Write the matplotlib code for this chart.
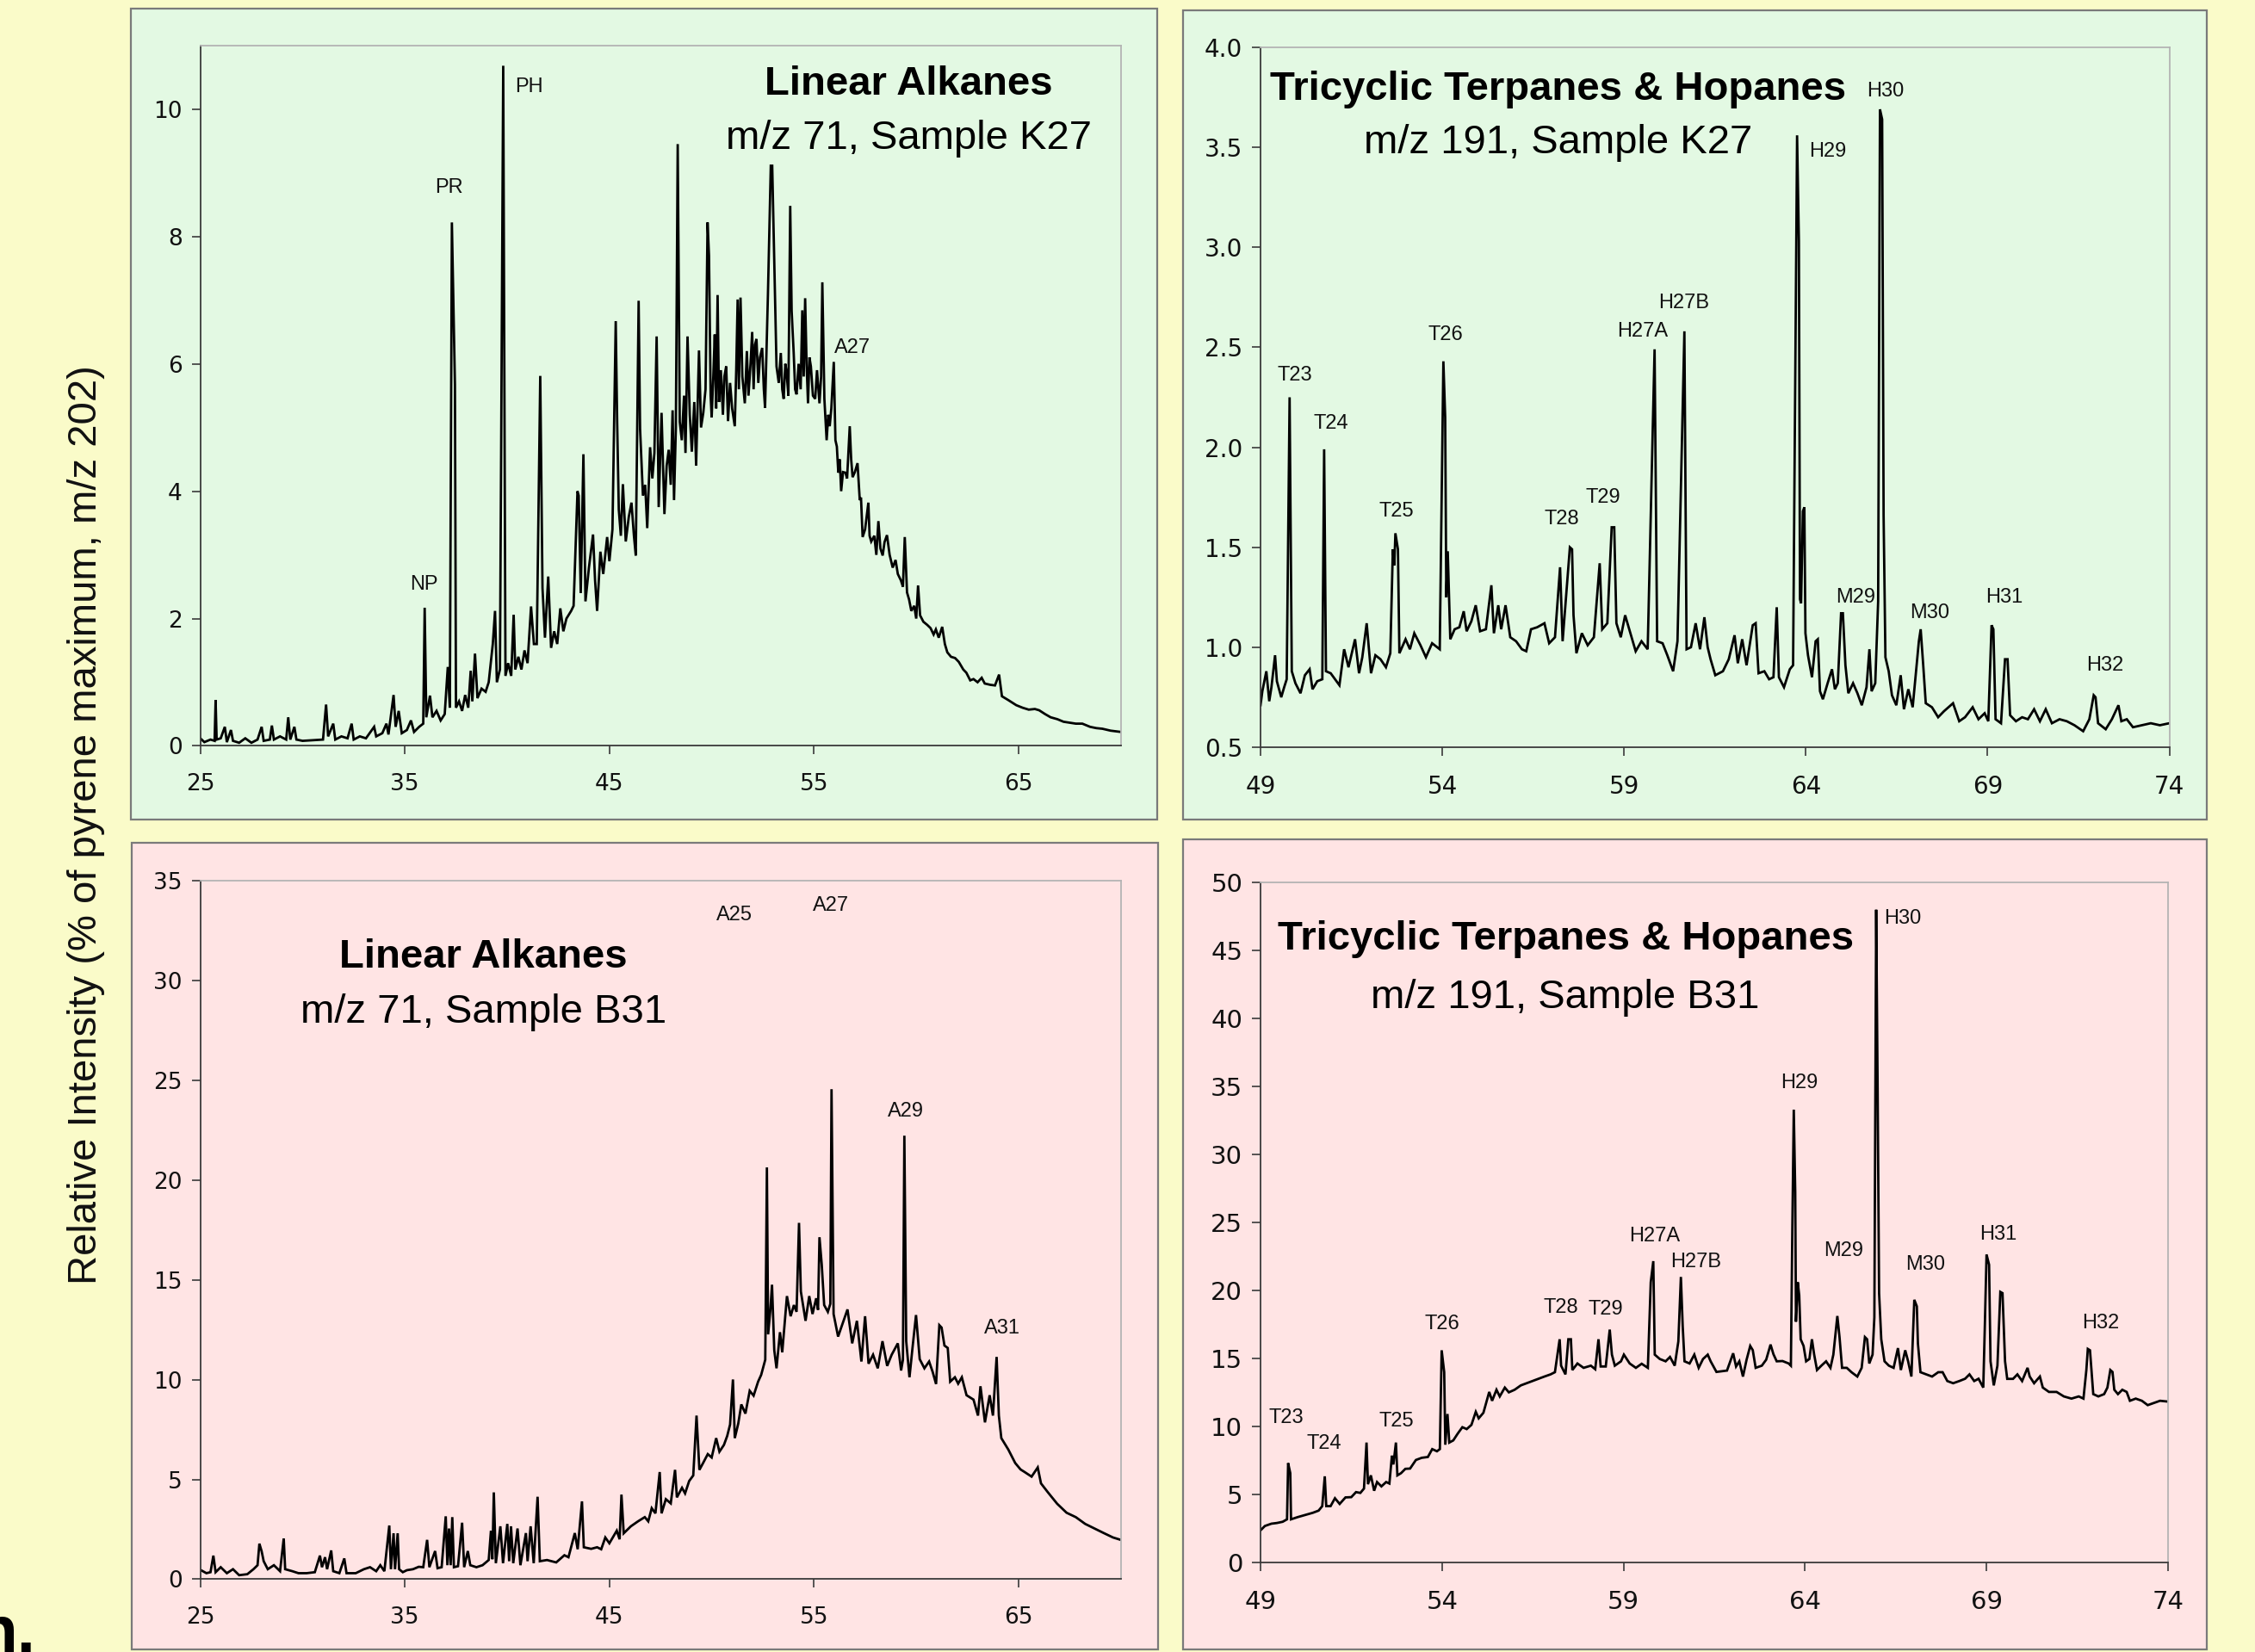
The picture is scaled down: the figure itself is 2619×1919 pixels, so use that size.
import numpy as np
import matplotlib
matplotlib.use("Agg")
import matplotlib.pyplot as plt
from matplotlib.patches import Rectangle
from matplotlib.ticker import FormatStrFormatter

# ---------------- data (retention time, relative intensity) ----------------
k27_alkanes = [
    (25.0,0.12),(25.2,0.06),(25.5,0.1),(25.7,0.08),(25.75,0.72),(25.8,0.1),(26.0,0.12),(26.2,0.3),(26.3,0.06),
    (26.5,0.25),(26.6,0.08),(26.9,0.05),(27.2,0.12),(27.5,0.05),(27.8,0.1),(28.0,0.3),(28.1,0.08),(28.4,0.1),
    (28.5,0.32),(28.6,0.1),(28.9,0.15),(29.2,0.1),(29.3,0.45),(29.4,0.1),(29.6,0.3),(29.7,0.1),(30.0,0.08),
    (30.5,0.09),(31.0,0.1),(31.15,0.65),(31.25,0.15),(31.5,0.35),(31.6,0.1),(31.9,0.15),(32.2,0.12),(32.4,0.35),
    (32.5,0.1),(32.8,0.15),(33.1,0.12),(33.5,0.3),(33.6,0.15),(33.9,0.2),(34.1,0.35),(34.2,0.18),(34.45,0.8),
    (34.55,0.3),(34.7,0.55),(34.85,0.2),(35.1,0.25),(35.3,0.4),(35.45,0.22),(35.7,0.3),(35.9,0.35),
    (35.97,2.17),(36.05,0.45),(36.23,0.79),(36.35,0.45),(36.55,0.55),(36.75,0.4),(36.95,0.5),(37.1,1.24),
    (37.2,0.6),(37.3,8.22),(37.45,5.67),(37.5,0.6),(37.65,0.7),(37.8,0.55),(37.95,0.8),(38.1,0.6),(38.22,1.18),
    (38.3,0.7),(38.43,1.45),(38.55,0.75),(38.75,0.9),(38.95,0.85),(39.1,1.0),(39.3,1.6),(39.41,2.12),(39.5,1.0),
    (39.65,1.2),(39.81,10.68),(39.92,1.1),(40.05,1.3),(40.2,1.1),(40.32,2.06),(40.4,1.2),(40.55,1.4),(40.7,1.2),
    (40.85,1.5),(41.0,1.3),(41.17,2.19),(41.31,1.6),(41.45,1.6),(41.62,5.81),(41.73,2.48),(41.85,1.7),(42.01,2.66),
    (42.15,1.54),(42.3,1.8),(42.45,1.6),(42.6,2.16),(42.75,1.8),(42.9,2.0),(43.13,2.12),(43.25,2.2),(43.44,4.0),
    (43.5,3.93),(43.6,2.4),(43.73,4.58),(43.83,2.27),(44.0,2.8),(44.2,3.32),(44.3,2.6),(44.4,2.12),(44.56,3.05),
    (44.7,2.7),(44.89,3.28),(45.0,2.9),(45.15,3.4),(45.31,6.67),(45.38,5.09),(45.46,3.71),(45.56,3.3),(45.66,4.11),
    (45.8,3.21),(45.95,3.6),(46.08,3.82),(46.2,3.3),(46.29,2.99),(46.43,6.99),(46.5,4.98),(46.64,3.93),(46.75,4.1),
    (46.85,3.42),(46.99,4.69),(47.1,4.2),(47.2,4.6),(47.31,6.43),(47.41,3.75),(47.55,5.23),(47.69,3.64),(47.8,4.4),
    (47.9,4.65),(48.0,4.1),(48.09,5.27),(48.16,3.86),(48.25,5.0),(48.34,9.45),(48.44,5.09),(48.54,4.8),(48.65,5.5),
    (48.72,4.6),(48.82,6.43),(48.93,5.2),(49.03,4.62),(49.15,5.4),(49.24,4.4),(49.38,6.21),(49.48,5.0),(49.59,5.23),
    (49.7,5.6),(49.8,8.22),(49.87,7.7),(49.95,5.5),(50.0,5.16),(50.08,5.8),(50.15,6.46),(50.22,5.3),(50.29,7.08),
    (50.36,5.4),(50.45,5.9),(50.55,5.2),(50.62,5.8),(50.71,5.96),(50.8,5.1),(50.9,5.7),(51.0,5.3),(51.13,5.02),
    (51.2,5.9),(51.27,7.01),(51.33,5.6),(51.41,7.04),(51.5,5.8),(51.62,5.38),(51.72,6.2),(51.8,5.5),(51.9,6.0),
    (51.98,6.5),(52.05,5.6),(52.12,6.3),(52.19,6.39),(52.28,5.7),(52.36,6.1),(52.47,6.25),(52.55,5.6),(52.61,5.31),
    (52.75,7.08),(52.89,9.11),(52.96,9.11),(53.07,7.48),(53.17,5.96),(53.28,5.7),(53.38,6.17),(53.45,5.6),
    (53.52,5.45),(53.6,6.0),(53.66,5.88),(53.75,5.5),(53.84,8.48),(53.91,6.83),(54.01,6.17),(54.08,5.6),
    (54.15,5.52),(54.25,6.0),(54.35,5.6),(54.43,6.84),(54.5,5.8),(54.57,7.03),(54.64,6.0),(54.71,5.38),(54.78,6.1),
    (54.85,5.96),(54.95,5.5),(55.06,5.45),(55.15,5.9),(55.27,5.38),(55.35,5.8),(55.41,7.28),(55.51,5.45),
    (55.62,4.8),(55.7,5.2),(55.77,5.02),(55.85,5.3),(55.97,6.03),(56.05,4.8),(56.12,4.7),(56.19,4.29),(56.26,4.5),
    (56.33,4.0),(56.42,4.3),(56.54,4.29),(56.62,4.2),(56.75,5.02),(56.82,4.5),(56.89,4.22),(57.0,4.3),(57.13,4.44),
    (57.24,3.86),(57.3,3.9),(57.38,3.28),(57.5,3.4),(57.66,3.82),(57.72,3.3),(57.8,3.21),(57.95,3.3),(58.05,3.0),
    (58.15,3.53),(58.25,3.1),(58.36,2.99),(58.45,3.2),(58.57,3.31),(58.7,3.0),(58.85,2.8),(58.99,2.92),(59.1,2.7),
    (59.25,2.6),(59.35,2.5),(59.44,3.28),(59.55,2.41),(59.65,2.3),(59.76,2.12),(59.9,2.2),(60.0,2.0),(60.09,2.52),
    (60.19,2.05),(60.35,1.95),(60.54,1.9),(60.7,1.85),(60.85,1.75),(60.96,1.83),(61.1,1.7),(61.27,1.87),(61.4,1.6),
    (61.52,1.47),(61.7,1.4),(61.9,1.38),(62.08,1.32),(62.3,1.2),(62.45,1.15),(62.64,1.03),(62.8,1.05),(63.0,1.0),
    (63.2,1.07),(63.35,0.98),(63.62,0.96),(63.85,0.95),(64.05,1.12),(64.19,0.78),(64.5,0.72),(64.89,0.64),
    (65.2,0.6),(65.5,0.57),(65.8,0.58),(66.01,0.56),(66.3,0.5),(66.57,0.45),(66.9,0.42),(67.2,0.38),(67.41,0.37),
    (67.8,0.35),(68.12,0.35),(68.5,0.3),(68.8,0.28),(69.1,0.27),(69.5,0.24),(70.0,0.22),
]

k27_hopanes = [
    (49.0,0.71),(49.05,0.78),(49.16,0.88),(49.24,0.73),(49.3,0.8),(49.4,0.96),(49.45,0.83),(49.57,0.75),
    (49.65,0.8),(49.72,0.84),(49.8,2.25),(49.86,0.88),(49.96,0.82),(50.1,0.77),(50.22,0.86),(50.35,0.89),
    (50.43,0.79),(50.56,0.83),(50.7,0.84),(50.75,1.99),(50.8,0.88),(50.93,0.87),(51.17,0.81),(51.3,0.99),
    (51.42,0.9),(51.6,1.04),(51.71,0.87),(51.8,0.95),(51.92,1.12),(52.04,0.87),(52.16,0.96),(52.3,0.94),
    (52.45,0.9),(52.57,0.97),(52.64,1.49),(52.68,1.41),(52.71,1.57),(52.78,1.49),(52.82,0.97),(52.99,1.04),
    (53.11,0.99),(53.23,1.07),(53.4,1.01),(53.55,0.95),(53.72,1.02),(53.93,0.99),(54.03,2.43),(54.08,2.15),
    (54.11,1.25),(54.15,1.48),(54.22,1.04),(54.34,1.09),(54.47,1.1),(54.59,1.18),(54.67,1.08),(54.8,1.13),
    (54.92,1.21),(55.04,1.08),(55.2,1.09),(55.35,1.31),(55.42,1.07),(55.54,1.21),(55.62,1.09),(55.74,1.21),
    (55.87,1.05),(56.03,1.03),(56.19,0.99),(56.31,0.98),(56.44,1.09),(56.61,1.1),(56.81,1.12),(56.94,1.02),
    (57.1,1.05),(57.24,1.4),(57.31,1.03),(57.51,1.5),(57.57,1.49),(57.61,1.16),(57.69,0.97),(57.84,1.07),
    (58.0,1.01),(58.17,1.05),(58.33,1.42),(58.4,1.09),(58.54,1.12),(58.66,1.6),(58.73,1.6),(58.79,1.12),
    (58.91,1.05),(59.03,1.16),(59.16,1.08),(59.32,0.98),(59.48,1.03),(59.65,0.99),(59.84,2.49),(59.91,1.03),
    (60.06,1.02),(60.19,0.96),(60.35,0.88),(60.47,1.03),(60.66,2.58),(60.72,0.99),(60.84,1.0),(60.97,1.12),
    (61.09,0.99),(61.21,1.15),(61.3,1.0),(61.38,0.94),(61.51,0.86),(61.72,0.88),(61.88,0.94),(62.04,1.06),
    (62.13,0.92),(62.25,1.04),(62.37,0.91),(62.54,1.11),(62.62,1.12),(62.7,0.87),(62.86,0.88),(62.99,0.84),
    (63.11,0.85),(63.2,1.2),(63.26,0.85),(63.4,0.8),(63.56,0.89),(63.65,0.91),(63.76,3.56),(63.81,3.03),
    (63.84,1.24),(63.87,1.22),(63.92,1.68),(63.96,1.7),(63.99,1.07),(64.06,0.96),(64.17,0.85),(64.27,1.03),
    (64.33,1.04),(64.39,0.78),(64.47,0.74),(64.6,0.82),(64.72,0.89),(64.8,0.79),(64.88,0.82),(64.97,1.17),
    (65.02,1.17),(65.09,0.91),(65.17,0.77),(65.3,0.82),(65.42,0.77),(65.54,0.71),(65.67,0.8),(65.75,0.99),
    (65.81,0.78),(65.91,0.82),(65.99,1.23),(66.04,3.69),(66.1,3.64),(66.14,1.66),(66.19,0.95),(66.28,0.88),
    (66.37,0.76),(66.49,0.71),(66.61,0.86),(66.7,0.69),(66.82,0.79),(66.94,0.7),(67.11,1.03),(67.16,1.09),
    (67.23,0.91),(67.3,0.72),(67.47,0.7),(67.64,0.65),(67.8,0.68),(68.05,0.72),(68.22,0.63),(68.38,0.65),
    (68.59,0.7),(68.75,0.64),(68.92,0.67),(69.02,0.63),(69.11,1.11),(69.16,1.09),(69.22,0.64),(69.37,0.62),
    (69.48,0.94),(69.55,0.94),(69.62,0.66),(69.78,0.63),(69.95,0.65),(70.11,0.64),(70.28,0.69),(70.44,0.63),
    (70.6,0.69),(70.77,0.62),(70.98,0.64),(71.18,0.63),(71.39,0.61),(71.63,0.58),(71.8,0.64),(71.92,0.76),
    (71.97,0.75),(72.04,0.62),(72.25,0.59),(72.42,0.64),(72.6,0.71),(72.68,0.63),(72.83,0.64),(73.0,0.6),
    (73.25,0.61),(73.49,0.62),(73.74,0.61),(74.0,0.62),
]

b31_alkanes = [
    (25.0,0.47),(25.3,0.3),(25.5,0.35),(25.64,1.18),(25.75,0.35),(26.0,0.6),(26.3,0.3),(26.6,0.5),(26.9,0.2),
    (27.3,0.25),(27.6,0.5),(27.8,0.7),(27.89,1.78),(28.0,1.4),(28.1,0.9),(28.3,0.5),(28.6,0.7),(28.9,0.4),
    (29.08,2.04),(29.15,0.5),(29.5,0.4),(29.8,0.3),(30.2,0.3),(30.6,0.35),(30.85,1.18),(30.95,0.6),(31.1,1.1),
    (31.2,0.5),(31.4,1.44),(31.5,0.4),(31.8,0.3),(32.04,1.04),(32.15,0.3),(32.6,0.3),(33.0,0.5),(33.3,0.6),
    (33.6,0.4),(33.8,0.7),(34.0,0.4),(34.24,2.69),(34.32,0.5),(34.45,2.3),(34.52,0.5),(34.65,2.3),(34.72,0.5),
    (34.9,0.35),(35.1,0.45),(35.4,0.5),(35.68,0.62),(35.9,0.6),(36.09,1.97),(36.2,0.6),(36.48,1.41),(36.6,0.55),
    (36.8,0.6),(37.0,3.15),(37.08,0.7),(37.16,2.54),(37.24,0.7),(37.32,3.11),(37.4,0.6),(37.6,0.65),(37.8,2.83),
    (37.9,0.6),(38.08,1.41),(38.2,0.7),(38.5,0.6),(38.8,0.7),(39.1,0.96),(39.21,2.43),(39.28,1.0),(39.35,4.35),
    (39.45,0.8),(39.67,2.65),(39.8,0.8),(40.01,2.77),(40.1,0.9),(40.19,2.65),(40.3,0.8),(40.51,2.54),(40.65,0.7),
    (40.92,2.31),(41.0,0.9),(41.15,2.65),(41.3,0.8),(41.49,4.13),(41.6,0.9),(41.95,0.96),(42.4,0.84),(42.8,1.2),
    (43.0,1.1),(43.31,2.31),(43.45,1.5),(43.66,3.9),(43.75,1.6),(44.11,1.52),(44.4,1.6),(44.6,1.5),(44.8,2.09),
    (45.0,1.8),(45.36,2.43),(45.5,2.0),(45.59,4.24),(45.7,2.3),(46.05,2.65),(46.4,2.9),(46.73,3.11),(46.9,2.9),
    (47.07,3.56),(47.25,3.3),(47.46,5.37),(47.55,3.3),(47.76,4.01),(48.0,3.8),(48.21,5.48),(48.3,4.1),(48.55,4.58),
    (48.7,4.3),(48.9,4.92),(49.1,5.2),(49.26,8.2),(49.4,5.48),(49.58,5.82),(49.81,6.27),(50.0,6.1),(50.22,7.07),
    (50.38,6.39),(50.6,6.73),(50.76,7.18),(50.9,7.75),(51.04,10.01),(51.13,7.07),(51.3,7.8),(51.45,8.76),
    (51.65,8.3),(51.86,9.44),(52.05,9.2),(52.27,9.9),(52.42,10.24),(52.54,10.69),(52.62,11.0),(52.7,20.64),
    (52.76,12.27),(52.87,13.52),(52.95,14.76),(53.06,11.48),(53.17,10.57),(53.34,12.38),(53.45,11.37),
    (53.68,14.19),(53.86,13.18),(54.02,13.74),(54.15,13.4),(54.27,17.86),(54.36,14.42),(54.59,12.95),
    (54.77,14.19),(54.93,13.29),(55.11,14.08),(55.2,13.5),(55.27,17.14),(55.38,15.78),(55.5,13.74),(55.68,13.4),
    (55.8,13.8),(55.86,24.56),(55.96,13.29),(56.18,12.16),(56.41,12.84),(56.64,13.52),(56.87,11.82),(57.1,12.95),
    (57.32,10.91),(57.5,13.18),(57.67,10.8),(57.89,11.25),(58.12,10.57),(58.35,11.93),(58.58,10.69),(58.8,11.25),
    (59.1,11.82),(59.26,10.46),(59.35,11.0),(59.42,22.23),(59.51,11.93),(59.67,10.12),(59.83,11.71),(59.99,13.24),
    (60.17,11.03),(60.4,10.57),(60.63,10.91),(60.8,10.4),(60.97,9.78),(61.13,12.73),(61.24,12.61),(61.38,11.71),
    (61.54,11.59),(61.66,9.9),(61.89,10.12),(62.05,9.8),(62.23,10.12),(62.46,9.22),(62.8,9.0),(63.02,8.2),
    (63.14,9.67),(63.36,7.86),(63.59,9.22),(63.75,8.2),(63.93,11.14),(64.04,8.2),(64.16,7.07),(64.5,6.5),
    (64.84,5.82),(65.1,5.5),(65.3,5.37),(65.64,5.14),(65.94,5.6),(66.1,4.8),(66.44,4.35),(66.89,3.78),(67.35,3.33),
    (67.8,3.11),(68.26,2.77),(68.71,2.54),(69.17,2.31),(69.62,2.09),(70.0,1.97),
]

b31_hopanes = [
    (49.0,2.36),(49.12,2.68),(49.3,2.85),(49.45,2.9),(49.61,2.99),(49.73,3.17),(49.76,7.3),(49.82,6.56),
    (49.84,3.17),(50.02,3.33),(50.23,3.49),(50.44,3.65),(50.6,3.81),(50.7,4.14),(50.77,6.33),(50.81,4.14),
    (50.93,4.14),(51.05,4.72),(51.18,4.3),(51.34,4.78),(51.5,4.8),(51.63,5.17),(51.75,5.11),(51.85,5.43),
    (51.92,8.81),(51.96,5.75),(52.04,6.4),(52.13,5.27),(52.21,5.91),(52.33,5.59),(52.46,5.91),(52.55,5.8),
    (52.62,7.85),(52.66,7.2),(52.73,8.81),(52.77,6.4),(52.87,6.56),(52.99,6.88),(53.12,6.9),(53.28,7.53),
    (53.44,7.69),(53.61,7.75),(53.73,8.33),(53.86,8.17),(53.94,8.33),(53.99,15.59),(54.06,13.98),(54.09,8.65),
    (54.15,10.91),(54.2,8.81),(54.31,8.97),(54.43,9.46),(54.56,9.94),(54.68,9.8),(54.81,10.11),(54.93,11.07),
    (55.01,10.59),(55.14,11.0),(55.3,12.53),(55.38,11.88),(55.5,12.69),(55.59,12.2),(55.73,12.85),(55.84,12.5),
    (56.0,12.69),(56.17,13.01),(56.33,13.17),(56.49,13.33),(56.66,13.5),(56.82,13.66),(56.99,13.82),(57.11,13.98),
    (57.24,16.4),(57.28,14.46),(57.4,13.82),(57.48,16.4),(57.55,16.4),(57.59,14.14),(57.73,14.62),(57.9,14.3),
    (58.1,14.46),(58.22,14.2),(58.31,16.4),(58.37,14.4),(58.51,14.4),(58.62,17.11),(58.68,15.27),(58.76,14.46),
    (58.93,14.78),(59.01,15.27),(59.17,14.62),(59.34,14.3),(59.5,14.6),(59.67,14.3),(59.75,20.59),(59.82,22.14),
    (59.86,15.27),(60.0,14.95),(60.16,14.78),(60.28,15.1),(60.41,14.46),(60.51,16.24),(60.58,20.98),(60.63,17.37),
    (60.68,14.78),(60.82,14.62),(60.95,15.27),(61.07,14.3),(61.19,14.95),(61.32,15.27),(61.4,14.78),(61.56,14.0),
    (61.85,14.1),(62.02,15.37),(62.1,14.4),(62.19,14.78),(62.29,13.66),(62.39,14.9),(62.49,15.91),(62.56,15.6),
    (62.64,14.3),(62.81,14.46),(62.93,14.9),(63.05,16.01),(63.13,15.3),(63.22,14.78),(63.38,14.8),(63.55,14.62),
    (63.61,14.46),(63.65,24.47),(63.69,33.27),(63.73,27.21),(63.75,17.69),(63.8,20.59),(63.84,19.63),(63.88,16.4),
    (63.96,15.91),(64.03,14.78),(64.12,14.95),(64.19,16.4),(64.25,15.3),(64.33,14.14),(64.45,14.46),(64.58,14.78),
    (64.7,14.3),(64.78,15.27),(64.89,18.11),(64.95,16.56),(65.02,14.3),(65.15,14.3),(65.28,13.98),(65.44,13.66),
    (65.56,14.3),(65.65,16.56),(65.71,16.4),(65.77,14.62),(65.86,15.27),(65.91,18.01),(65.96,47.96),(66.0,34.79),
    (66.04,19.79),(66.1,16.4),(66.19,14.78),(66.31,14.46),(66.44,14.3),(66.56,15.75),(66.64,14.14),(66.76,15.59),
    (66.84,14.78),(66.93,13.66),(67.01,19.3),(67.08,18.82),(67.11,16.08),(67.18,13.98),(67.34,13.82),(67.5,13.66),
    (67.67,13.98),(67.79,13.98),(67.92,13.33),(68.08,13.17),(68.25,13.33),(68.41,13.5),(68.53,13.82),(68.66,13.33),
    (68.78,13.5),(68.91,12.85),(68.95,17.04),(69.0,22.63),(69.07,21.88),(69.11,14.78),(69.2,13.01),(69.3,14.46),
    (69.38,19.88),(69.44,19.79),(69.51,14.78),(69.57,13.49),(69.73,13.49),(69.85,13.82),(69.98,13.33),(70.13,14.3),
    (70.19,13.66),(70.31,13.17),(70.47,13.66),(70.55,12.85),(70.72,12.53),(70.93,12.53),(71.13,12.2),(71.34,12.04),
    (71.54,12.2),(71.67,12.04),(71.75,14.14),(71.79,15.69),(71.85,15.59),(71.9,13.82),(71.94,12.37),(72.08,12.2),
    (72.24,12.37),(72.33,12.85),(72.41,14.14),(72.47,14.0),(72.52,12.69),(72.62,12.37),(72.74,12.69),(72.86,12.53),
    (72.95,11.88),(73.11,12.04),(73.28,11.88),(73.44,11.56),(73.61,11.72),(73.78,11.88),(74.0,11.82),
]

# peak labels: (text, rt, intensity)
k27_alkane_labels = [("NP", 35.93, 2.54), ("PR", 37.15, 8.77), ("PH", 41.08, 10.35), ("A27", 56.9, 6.25)]
k27_hopane_labels = [("T23", 49.94, 2.36), ("T24", 50.94, 2.12), ("T25", 52.74, 1.68), ("T26", 54.08, 2.56),
                     ("T28", 57.29, 1.64), ("T29", 58.42, 1.75), ("H27A", 59.52, 2.58), ("H27B", 60.65, 2.72),
                     ("H29", 64.6, 3.48), ("H30", 66.2, 3.78), ("M29", 65.37, 1.25), ("M30", 67.41, 1.17),
                     ("H31", 69.45, 1.25), ("H32", 72.23, 0.91)]
b31_alkane_labels = [("A25", 51.1, 33.3), ("A27", 55.84, 33.77), ("A29", 59.47, 23.45), ("A31", 64.2, 12.56)]
b31_hopane_labels = [("T23", 49.7, 10.6), ("T24", 50.76, 8.7), ("T25", 52.74, 10.4), ("T26", 54.0, 17.5),
                     ("T28", 57.28, 18.7), ("T29", 58.5, 18.6), ("H27A", 59.85, 24.0), ("H27B", 60.99, 22.1),
                     ("H29", 63.85, 35.2), ("M29", 65.06, 22.9), ("H30", 66.7, 47.3), ("M30", 67.31, 21.9),
                     ("H31", 69.33, 24.1), ("H32", 72.15, 17.6)]

titles = {
    "tl": ("Linear Alkanes", "m/z 71, Sample K27"),
    "tr": ("Tricyclic Terpanes & Hopanes", "m/z 191, Sample K27"),
    "bl": ("Linear Alkanes", "m/z 71, Sample B31"),
    "br": ("Tricyclic Terpanes & Hopanes", "m/z 191, Sample B31"),
}

# ---------------- figure ----------------
W, H = 2619, 1919
DPI = 100
plt.rcParams['font.family'] = ['DejaVu Sans']
fig = plt.figure(figsize=(W / DPI, H / DPI), dpi=DPI)
fig.patch.set_facecolor('#FAFBC9')

GREEN = '#E3F9E3'
PINK = '#FFE4E4'

def box(x0, y0, x1, y1, color):
    r = Rectangle((x0 / W, 1 - y1 / H), (x1 - x0) / W, (y1 - y0) / H, transform=fig.transFigure,
                  facecolor=color, edgecolor='#7a7a7a', linewidth=1.6, zorder=-10)
    fig.patches.append(r)

box(152, 10, 1344, 952, GREEN)
box(1374, 12, 2563, 952, GREEN)
box(153, 979, 1345, 1916, PINK)
box(1374, 975, 2563, 1916, PINK)

def make_axes(px_left, px_right, px_top, px_bottom):
    return fig.add_axes([px_left / W, 1 - px_bottom / H, (px_right - px_left) / W, (px_bottom - px_top) / H])

ax_tl = make_axes(232.6, 1301.7, 52.7, 866.5)
ax_tr = make_axes(1464, 2519.5, 55, 868)
ax_bl = make_axes(232.6, 1301.7, 1023.3, 1834.4)
ax_br = make_axes(1464, 2518, 1024.5, 1815)

LAB = ['Liberation Sans', 'DejaVu Sans']

def style(ax, xlim, ylim, xticks, yticks, size, fmt=None):
    ax.set_facecolor('none')
    ax.set_xlim(*xlim)
    ax.set_ylim(*ylim)
    ax.set_xticks(xticks)
    ax.set_yticks(yticks)
    if fmt:
        ax.yaxis.set_major_formatter(FormatStrFormatter(fmt))
    for s in ('left', 'bottom'):
        ax.spines[s].set_color('#3a3a3a')
        ax.spines[s].set_linewidth(1.3)
    for s in ('top', 'right'):
        ax.spines[s].set_color('#b4b4b4')
        ax.spines[s].set_linewidth(1.3)
    ax.tick_params(direction='out', length=7, width=1.2, color='#3a3a3a', labelsize=size,
                   labelcolor='#111111')
    ax.tick_params(axis='x', pad=16)
    ax.tick_params(axis='y', pad=8)

def draw(ax, trace, labels, title, tpos, lsize=17, tsize=34):
    arr = np.array(trace)
    ax.plot(arr[:, 0], arr[:, 1], color='black', linewidth=2.0, solid_joinstyle='miter')
    for t, x, y in labels:
        ax.text(x, y, t, ha='center', va='center', fontsize=lsize, family=LAB, color='#111111')
    (tx, ty1), (_, ty2) = tpos
    ax.text(tx, ty1, title[0], ha='center', va='center', fontsize=tsize, fontweight='bold', family=LAB)
    ax.text(tx, ty2, title[1], ha='center', va='center', fontsize=tsize, family=LAB)

style(ax_tl, (25, 70), (0, 11), [25, 35, 45, 55, 65], [0, 2, 4, 6, 8, 10], 19)
style(ax_tr, (49, 74), (0.5, 4.0), [49, 54, 59, 64, 69, 74], [0.5, 1.0, 1.5, 2.0, 2.5, 3.0, 3.5, 4.0], 20, '%.1f')
style(ax_bl, (25, 70), (0, 35), [25, 35, 45, 55, 65], [0, 5, 10, 15, 20, 25, 30, 35], 19)
style(ax_br, (49, 74), (0, 50), [49, 54, 59, 64, 69, 74], list(range(0, 51, 5)), 21)

draw(ax_tl, k27_alkanes, k27_alkane_labels, titles['tl'], ((59.63, 10.39), (59.63, 9.54)))
draw(ax_tr, k27_hopanes, k27_hopane_labels, titles['tr'], ((57.18, 3.79), (57.16, 3.52)))
draw(ax_bl, b31_alkanes, b31_alkane_labels, titles['bl'], ((38.83, 31.16), (38.8, 28.4)))
draw(ax_br, b31_hopanes, b31_hopane_labels, titles['br'], ((57.4, 45.8), (57.36, 41.5)))

fig.text(100 / W, 0.5008, 'Relative Intensity (% of pyrene maximum, m/z 202)', rotation=90,
         ha='center', va='center', fontsize=34, family=LAB, color='#111111')
fig.text(-26 / W, 0.0, 'h.', ha='left', va='baseline', fontsize=55, fontweight='bold', family=LAB)

fig.savefig('out.png', dpi=DPI, facecolor=fig.get_facecolor())
